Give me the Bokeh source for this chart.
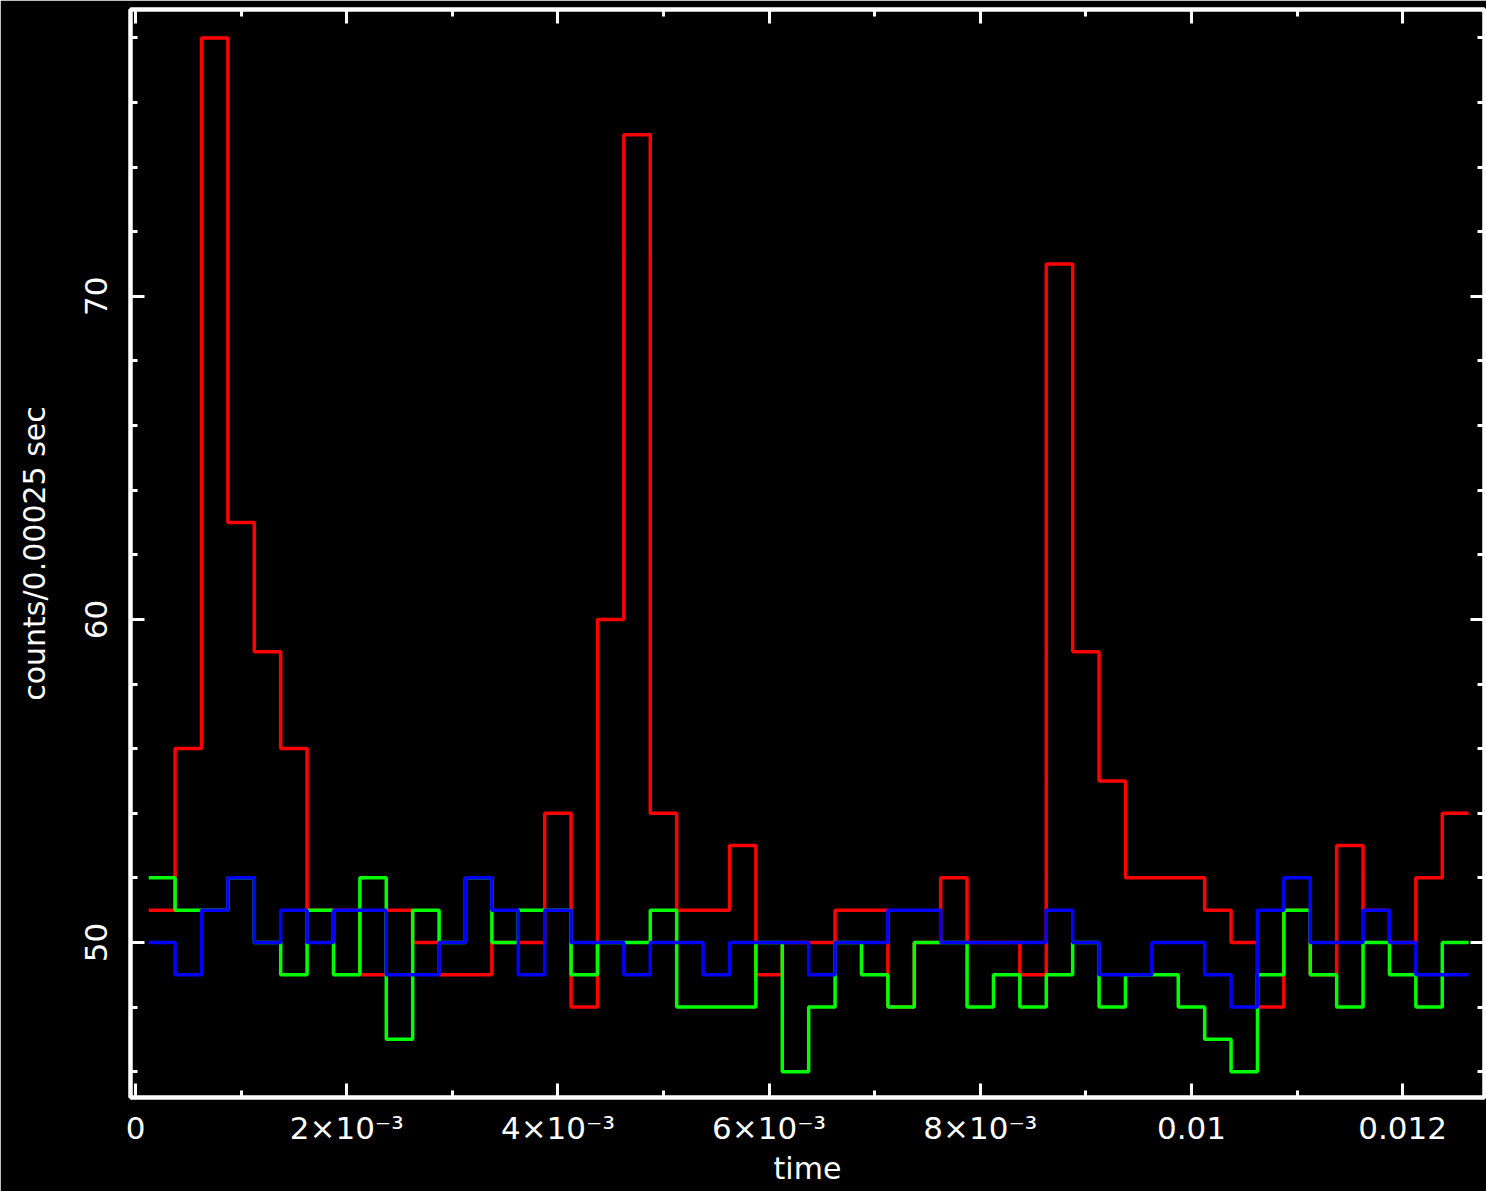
from bokeh.plotting import figure
from bokeh.models import FixedTicker, LinearAxis, CustomJSTickFormatter, Range1d
from bokeh.embed import file_html
from bokeh.resources import INLINE

# ---- data -------------------------------------------------------------
bin_width = 0.00025
first_edge = 0.000125

red_counts = [51, 56, 78, 63, 59, 56, 51, 51, 49, 51,
              50, 49, 49, 50, 50, 54, 48, 60, 75, 54,
              51, 51, 53, 49, 50, 50, 51, 51, 48, 50,
              52, 50, 50, 49, 71, 59, 55, 52, 52, 52,
              51, 50, 48, 51, 49, 53, 51, 50, 52, 54]

green_counts = [52, 51, 51, 52, 50, 49, 51, 49, 52, 47,
                51, 50, 52, 50, 51, 51, 49, 50, 50, 51,
                48, 48, 48, 50, 46, 48, 50, 49, 48, 50,
                50, 48, 49, 48, 49, 50, 48, 49, 49, 48,
                47, 46, 49, 51, 49, 48, 50, 49, 48, 50]

blue_counts = [50, 49, 51, 52, 50, 51, 50, 51, 51, 49,
               49, 50, 52, 51, 49, 51, 50, 50, 49, 50,
               50, 49, 50, 50, 50, 49, 50, 50, 51, 51,
               50, 50, 50, 50, 51, 50, 49, 49, 50, 50,
               49, 48, 51, 52, 50, 50, 51, 50, 49, 49]

x_tick_values = [0.0, 0.002, 0.004, 0.006, 0.008, 0.010, 0.012]
x_tick_labels = ["0", "2×10⁻³", "4×10⁻³", "6×10⁻³", "8×10⁻³", "0.01", "0.012"]
x_minor_values = [0.001, 0.003, 0.005, 0.007, 0.009, 0.011]
y_tick_values = [50, 60, 70]
y_minor_values = [46, 48, 52, 54, 56, 58, 62, 64, 66, 68, 72, 74, 76, 78]

x_label = "time"
y_label = "counts/0.00025 sec"

# ---- figure -----------------------------------------------------------
FONT = "DejaVu Sans"
p = figure(width=1486, height=1191, output_backend="svg", toolbar_location=None,
           x_range=Range1d(-0.0000473, 0.012775), y_range=Range1d(45.2, 78.88),
           background_fill_color="black", border_fill_color="black",
           min_border_left=130, min_border_right=2, min_border_top=9,
           min_border_bottom=94, outline_line_color="white",
           outline_line_width=4)
p.grid.visible = False

n = len(red_counts)
edges = [first_edge + i * bin_width for i in range(n + 1)]
for counts, color in [(red_counts, "#ff0000"), (green_counts, "#00ff00"),
                      (blue_counts, "#0000ff")]:
    p.step(edges, counts + [counts[-1]], mode="after", line_color=color,
           line_width=3.5)

x_formatter = CustomJSTickFormatter(
    args=dict(values=x_tick_values, labels=x_tick_labels),
    code="""
    let best = 0, bd = Infinity;
    for (let i = 0; i < values.length; i++) {
        const d = Math.abs(values[i] - tick);
        if (d < bd) { bd = d; best = i; }
    }
    return labels[best];
    """)

def style_axis(ax, ticks, minors):
    ax.ticker = FixedTicker(ticks=ticks, minor_ticks=minors)
    ax.axis_line_color = "white"
    ax.axis_line_width = 4
    ax.major_tick_line_color = "white"
    ax.minor_tick_line_color = "white"
    ax.major_tick_line_width = 3
    ax.minor_tick_line_width = 3
    ax.major_tick_in = 14
    ax.major_tick_out = 0
    ax.minor_tick_in = 7
    ax.minor_tick_out = 0
    ax.major_label_text_color = "white"
    ax.major_label_text_font = FONT
    ax.major_label_text_font_size = "31px"
    ax.axis_label_text_color = "white"
    ax.axis_label_text_font = FONT
    ax.axis_label_text_font_size = "30px"
    ax.axis_label_text_font_style = "normal"

xb = p.xaxis[0]
style_axis(xb, x_tick_values, x_minor_values)
xb.formatter = x_formatter
xb.axis_label = x_label
xb.major_label_standoff = 12
xb.axis_label_standoff = 2

yl = p.yaxis[0]
style_axis(yl, y_tick_values, y_minor_values)
yl.axis_label = y_label
yl.major_label_orientation = "vertical"
yl.major_label_standoff = 23
yl.axis_label_standoff = 31

# mirrored tick marks on the top and right sides (no labels drawn)
xt = LinearAxis()
style_axis(xt, x_tick_values, x_minor_values)
xt.major_label_text_color = None
xt.major_label_text_font_size = "1px"
xt.major_label_standoff = 0
p.add_layout(xt, "above")

yr = LinearAxis()
style_axis(yr, y_tick_values, y_minor_values)
yr.major_label_text_color = None
yr.major_label_text_font_size = "1px"
yr.major_label_standoff = 0
p.add_layout(yr, "right")

open("out.html", "w").write(file_html(p, INLINE))
